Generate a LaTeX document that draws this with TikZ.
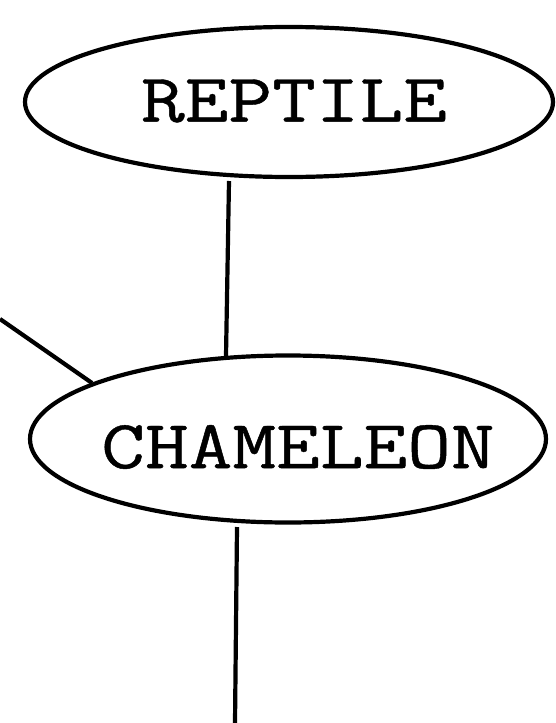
\documentclass[tikz,border=0pt]{standalone}
\usepackage{fontspec}
\newfontfamily\lblfont{Latin Modern Mono}[FakeBold=0.6]
\usetikzlibrary{shapes.geometric}
\begin{document}
\begin{tikzpicture}[x=1pt,y=-1pt,
  ell/.style={draw,ellipse,line width=4.2pt,inner sep=0pt},
  lbl/.style={inner sep=0pt,font=\fontsize{69}{69}\selectfont\lblfont},
  conn/.style={line width=4.2pt}]
\useasboundingbox (0,0) rectangle (556,723);
\node[ell,minimum width=528pt,minimum height=150pt] (reptile) at (289,102) {};
\node[lbl] (reptiletext) at (294,101) {\scalebox{1.23}[1]{REPTILE}};
\node[ell,minimum width=516pt,minimum height=167pt] (chameleon) at (288,439) {};
\node[lbl] (chameleontext) at (298,447) {\scalebox{1.23}[1]{CHAMELEON}};
\coordinate (r1) at (229,181);
\coordinate (c0) at (226,356);
\coordinate (c1) at (237,527);
\coordinate (cl) at (92,383);
\coordinate (left) at (0,319);
\coordinate (bottom) at (235,723);
\draw[conn] (r1) -- (c0);
\draw[conn] (left) -- (cl);
\draw[conn] (c1) -- (bottom);
\end{tikzpicture}
\end{document}
